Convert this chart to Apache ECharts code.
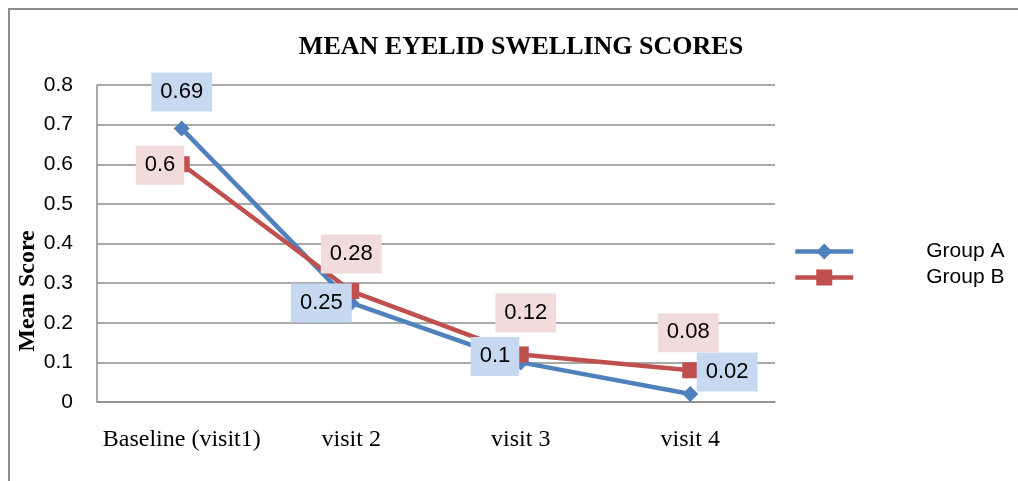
<!DOCTYPE html>
<html>
<head>
<meta charset="utf-8">
<script src="https://cdn.jsdelivr.net/npm/echarts@6/dist/echarts.min.js"></script>
<style>
  html, body { margin: 0; padding: 0; background: #fff; }
  #main { width: 1018px; height: 481px; }
</style>
</head>
<body>
<div id="main"></div>
<script>
// visits on the x axis
var visits = ['Baseline (visit1)', 'visit 2', 'visit 3', 'visit 4'];
var groupA = [0.69, 0.25, 0.1, 0.02];
var groupB = [0.6, 0.28, 0.12, 0.08];
var seriesNames = ['Group A', 'Group B'];

// where each data label sits (position, distance, offset)
var labelPosA = [['top', 9, [0, 0]], ['left', -8.5, [0, 0]], ['left', -6.5, [0, -6]], ['right', -1.5, [0, -22]]];
var labelPosB = [['left', -10.5, [0, 1]], ['top', 9.5, [0, 0]], ['top', 14, [5, 0]], ['top', 10, [-2, 0]]];

var serif = '"Liberation Serif", "Times New Roman", serif';
var sans = '"Liberation Sans", Arial, sans-serif';

function points(values, pos, bg) {
    return values.map(function (v, i) {
        return {
            value: v,
            label: {
                show: true,
                position: pos[i][0],
                distance: pos[i][1],
                offset: pos[i][2],
                backgroundColor: bg,
                padding: [8, 9, 9, 9],
                color: '#000',
                fontFamily: sans,
                fontSize: 22,
                lineHeight: 22
            }
        };
    });
}

var chart = echarts.init(document.getElementById('main'));
var option = {
    backgroundColor: '#fff',
    animation: false,
    grid: {left: 97, right: 243, top: 85, bottom: 79},
    legend: {
        orient: 'vertical',
        left: 788,
        top: 236,
        itemWidth: 58,
        itemHeight: 20,
        itemGap: 5,
        data: seriesNames,
        lineStyle: {width: 4.5},
        textStyle: {
            fontFamily: sans,
            fontSize: 21,
            lineHeight: 21,
            color: '#000',
            padding: [0, 0, 0, 68]
        }
    },
    xAxis: {
        type: 'category',
        data: visits,
        boundaryGap: true,
        axisLine: {show: true, lineStyle: {color: '#8c8c8c', width: 1.5}},
        axisTick: {show: false},
        axisLabel: {
            color: '#000',
            fontFamily: serif,
            fontSize: 24,
            margin: 26,
            interval: 0
        }
    },
    yAxis: {
        type: 'value',
        min: 0,
        max: 0.8,
        interval: 0.1,
        axisLine: {show: true, lineStyle: {color: '#8c8c8c', width: 1.5}},
        axisTick: {show: false},
        splitLine: {lineStyle: {color: '#8c8c8c', width: 1.5}},
        axisLabel: {
            color: '#000',
            fontFamily: sans,
            fontSize: 21,
            margin: 24,
            formatter: function (v) { return v === 0 ? '0' : v.toFixed(1); }
        }
    },
    series: [
        {
            name: seriesNames[0],
            type: 'line',
            data: points(groupA, labelPosA, '#c6d9f1'),
            symbol: 'diamond',
            symbolSize: 16,
            itemStyle: {color: '#4f81bd'},
            lineStyle: {color: '#4f81bd', width: 4.5},
            z: 2
        },
        {
            name: seriesNames[1],
            type: 'line',
            data: points(groupB, labelPosB, '#f2dcdb'),
            symbol: 'rect',
            symbolSize: 16,
            itemStyle: {color: '#c0504d'},
            lineStyle: {color: '#c0504d', width: 4.5},
            z: 2
        }
    ],
    graphic: [
        {
            type: 'rect',
            silent: true,
            shape: {x: 9, y: 9, width: 1200, height: 800},
            style: {fill: 'none', stroke: '#8c8c8c', lineWidth: 2}
        },
        {
            type: 'text',
            silent: true,
            x: 521,
            y: 47,
            style: {
                text: 'MEAN EYELID SWELLING SCORES',
                font: 'bold 26px ' + serif,
                fill: '#000',
                textAlign: 'center',
                textVerticalAlign: 'middle',
                align: 'center',
                verticalAlign: 'middle'
            }
        },
        {
            type: 'text',
            silent: true,
            x: 28,
            y: 291,
            rotation: Math.PI / 2,
            style: {
                text: 'Mean Score',
                font: 'bold 24px ' + serif,
                fill: '#000',
                textAlign: 'center',
                textVerticalAlign: 'middle',
                align: 'center',
                verticalAlign: 'middle'
            }
        }
    ]
};
chart.setOption(option);
</script>
</body>
</html>
